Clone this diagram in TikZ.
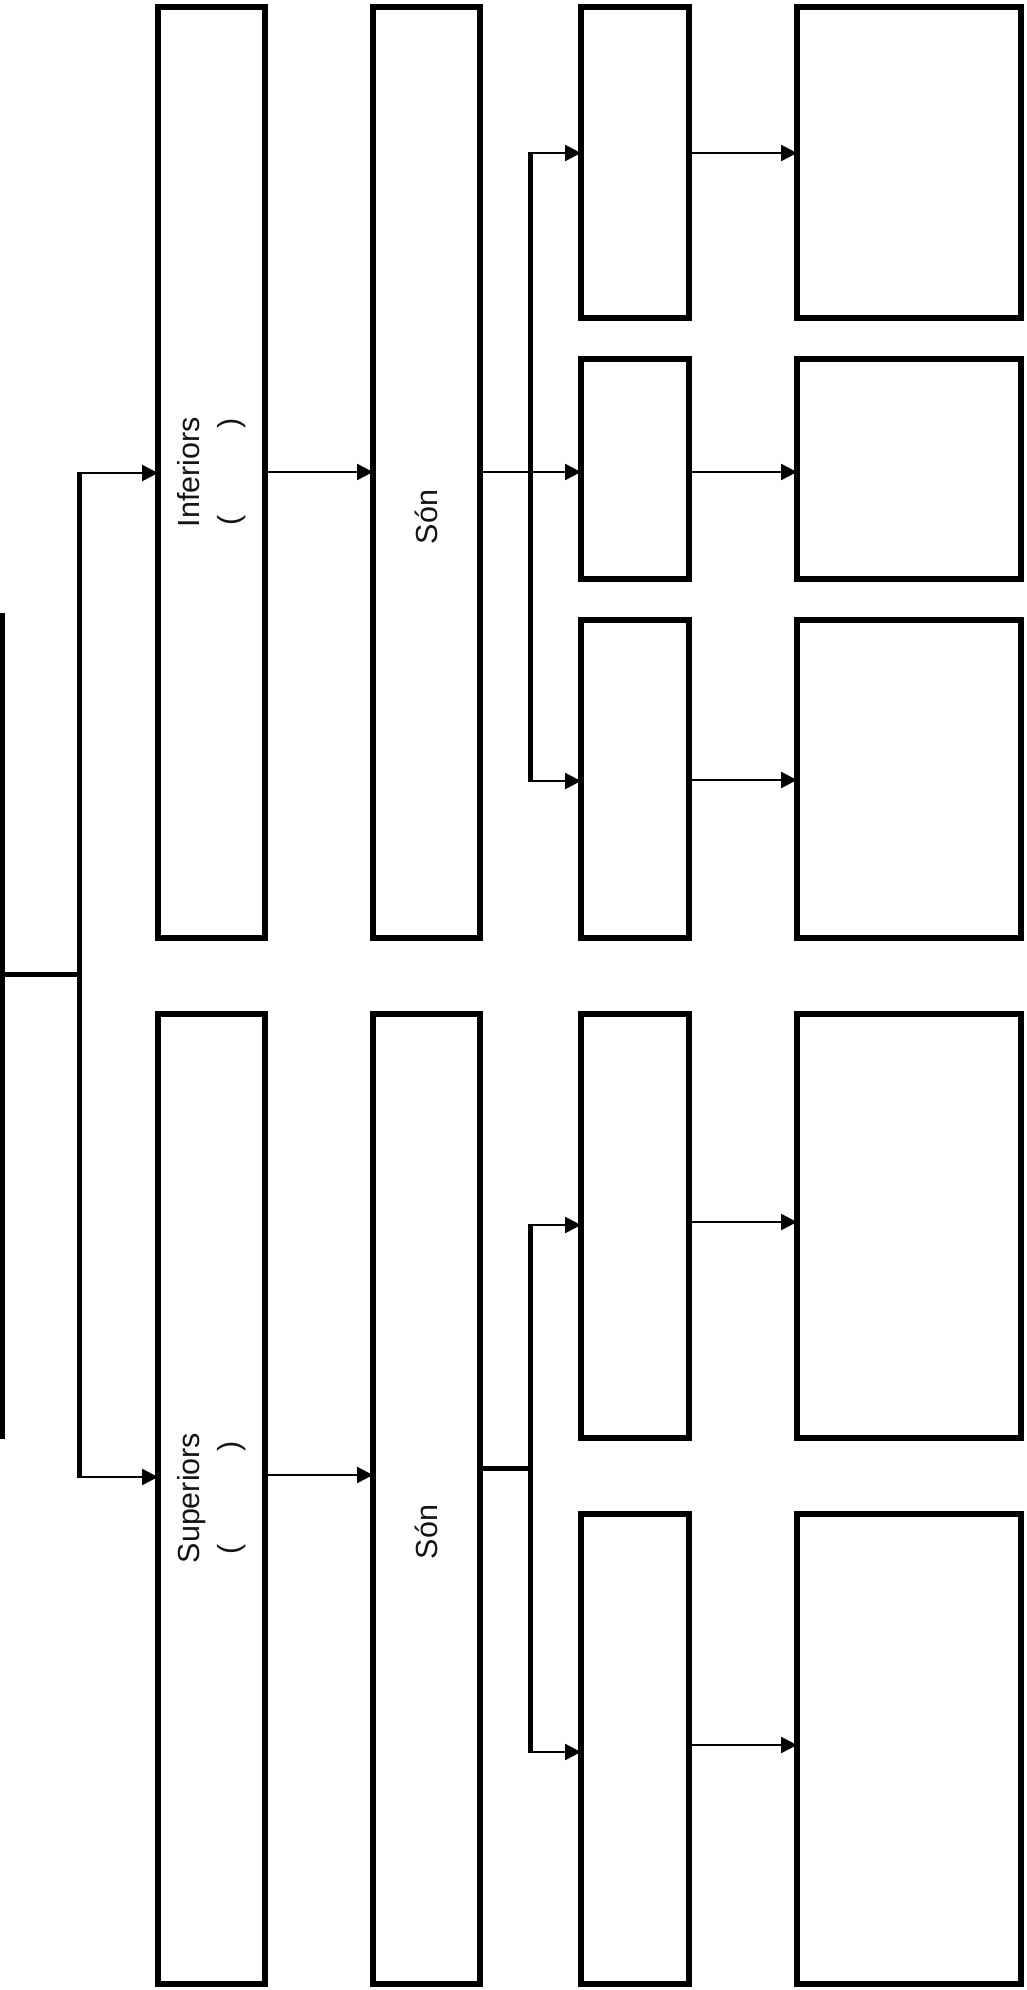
\documentclass[tikz,border=0pt]{standalone}
\usepackage{fontspec}
\setmainfont{Liberation Sans}
\usetikzlibrary{arrows.meta}
\tikzset{
  box/.style={draw=black, line width=5.5pt, inner sep=0pt, outer sep=0pt, fill=white},
  arr/.style={line width=2.5pt, -{Triangle[length=16pt,width=16pt]}},
  heavy/.style={line width=5pt},
  lbl/.style={rotate=90, align=center, inner sep=0pt, text=black!92,
    font=\fontsize{30.5pt}{40pt}\selectfont}
}
\begin{document}
\begin{tikzpicture}[x=1pt,y=-1pt]
\useasboundingbox[fill=white] (0,0) rectangle (1026,1990);
% column 1
\node[box, minimum width=107pt, minimum height=931pt] (inf) at (211.5,472.5) {};
\node[box, minimum width=107pt, minimum height=970pt] (sup) at (211.5,1499) {};
% column 2
\node[box, minimum width=107pt, minimum height=931pt] (sonA) at (426.5,472.5) {};
\node[box, minimum width=107pt, minimum height=970pt] (sonB) at (426.5,1499) {};
% column 3
\node[box, minimum width=108pt, minimum height=311pt] (c31) at (635,162.5) {};
\node[box, minimum width=108pt, minimum height=220pt] (c32) at (635,469) {};
\node[box, minimum width=108pt, minimum height=318pt] (c33) at (635,779) {};
\node[box, minimum width=108pt, minimum height=424pt] (c34) at (635,1226) {};
\node[box, minimum width=108pt, minimum height=470pt] (c35) at (635,1749) {};
% column 4
\node[box, minimum width=224pt, minimum height=311pt] (c41) at (909,162.5) {};
\node[box, minimum width=224pt, minimum height=220pt] (c42) at (909,469) {};
\node[box, minimum width=224pt, minimum height=318pt] (c43) at (909,779) {};
\node[box, minimum width=224pt, minimum height=424pt] (c44) at (909,1226) {};
\node[box, minimum width=224pt, minimum height=470pt] (c45) at (909,1749) {};
% labels
\node[lbl] (tinf) at (212,472) {Inferiors\\(\hspace{87pt})};
\node[lbl] (tsup) at (212,1498) {Superiors\\(\hspace{93pt})};
\node[lbl] (tsonA) at (426,517) {Són};
\node[lbl] (tsonB) at (426,1532) {Són};
% root bracket
\coordinate (rt) at (2.5,613);
\coordinate (rb) at (2.5,1439);
\coordinate (rm) at (2.5,974);
\coordinate (bm) at (79,974);
\coordinate (b1) at (79,473);
\coordinate (b2) at (79,1477);
\draw[heavy] (rt) -- (rb);
\draw[heavy] (rm) -- (bm);
\draw[heavy] ([yshift=-1.2pt]b1) -- ([yshift=1.2pt]b2);
\draw[arr] ([xshift=-2pt]b1) -- (b1 -| inf.west);
\draw[arr] ([xshift=-2pt]b2) -- (b2 -| sup.west);
% col1 -> col2
\coordinate (p1) at (265.5,472);
\coordinate (p2) at (265.5,1475);
\draw[arr] (p1 -| inf.east) -- (p1 -| sonA.west);
\draw[arr] (p2 -| sup.east) -- (p2 -| sonB.west);
% inferiors branch
\coordinate (ia) at (530,153);
\coordinate (ib) at (530,472);
\coordinate (ic) at (530,781);
\draw[heavy] ([yshift=-1.2pt]ia) -- ([yshift=1.2pt]ic);
\draw[arr] (ib -| sonA.east) -- (ib -| c32.west);
\draw[arr] ([xshift=-2pt]ia) -- (ia -| c31.west);
\draw[arr] ([xshift=-2pt]ic) -- (ic -| c33.west);
% superiors branch
\coordinate (sa) at (530,1225);
\coordinate (sm) at (530,1468);
\coordinate (sc) at (530,1752);
\draw[heavy] ([yshift=-1.2pt]sa) -- ([yshift=1.2pt]sc);
\draw[heavy] (sm -| sonB.east) -- (sm);
\draw[arr] ([xshift=-2pt]sa) -- (sa -| c34.west);
\draw[arr] ([xshift=-2pt]sc) -- (sc -| c35.west);
% col3 -> col4
\coordinate (q1) at (700,153);
\coordinate (q2) at (700,472);
\coordinate (q3) at (700,780);
\coordinate (q4) at (700,1222);
\coordinate (q5) at (700,1745);
\draw[arr] (q1 -| c31.east) -- (q1 -| c41.west);
\draw[arr] (q2 -| c32.east) -- (q2 -| c42.west);
\draw[arr] (q3 -| c33.east) -- (q3 -| c43.west);
\draw[arr] (q4 -| c34.east) -- (q4 -| c44.west);
\draw[arr] (q5 -| c35.east) -- (q5 -| c45.west);
\end{tikzpicture}
\end{document}
